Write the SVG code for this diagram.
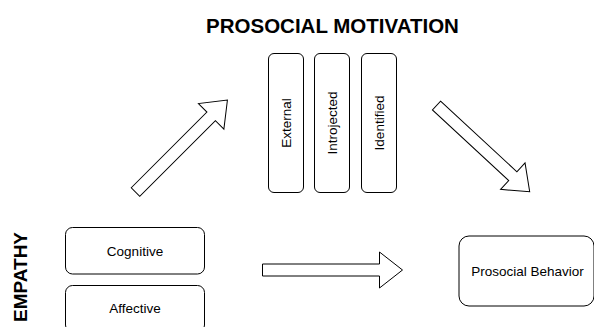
<svg xmlns="http://www.w3.org/2000/svg" width="594" height="327" viewBox="0 0 594 327">
<style>
.box{fill:#fff;stroke:#000;stroke-width:1}
.arr{fill:#fff;stroke:#000;stroke-width:1;stroke-linejoin:miter}
.lbl{font-family:"Liberation Sans",Arial,sans-serif;font-size:13.5px;fill:#000;text-anchor:middle}
.ttl{font-family:"Liberation Sans",Arial,sans-serif;font-size:20.5px;font-weight:bold;fill:#000;text-anchor:middle}
</style>
<rect width="594" height="327" fill="#fff"/>
<g id="title-motivation"><text class="ttl" x="332.5" y="33">PROSOCIAL MOTIVATION</text></g>
<g id="title-empathy"><text class="ttl" style="font-size:19px" transform="translate(27,277) rotate(-90)">EMPATHY</text></g>
<g id="external"><rect class="box" x="268.5" y="53.5" width="35" height="139" rx="5.5"/><text class="lbl" transform="translate(290.5,123) rotate(-90)">External</text></g>
<g id="introjected"><rect class="box" x="314.5" y="53.5" width="35" height="139" rx="5.5"/><text class="lbl" transform="translate(336.5,123) rotate(-90)">Introjected</text></g>
<g id="identified"><rect class="box" x="361.5" y="53.5" width="35" height="139" rx="5.5"/><text class="lbl" transform="translate(383.5,123) rotate(-90)">Identified</text></g>
<g id="cognitive"><rect class="box" x="65.5" y="227.5" width="139" height="46.5" rx="7"/><text class="lbl" x="135" y="255.5">Cognitive</text></g>
<g id="affective"><rect class="box" x="65.5" y="285.5" width="139" height="46.5" rx="7"/><text class="lbl" x="135" y="313">Affective</text></g>
<g id="prosocial-behavior"><rect class="box" x="459" y="236" width="135" height="70" rx="10"/><text class="lbl" x="527.5" y="276">Prosocial Behavior</text></g>
<g id="connectors">
<path class="arr" transform="translate(262.5,270)" d="M0,-6H117V-18L140,0L117,18V6H0Z"/>
<path class="arr" transform="translate(135.5,192) rotate(-45)" d="M0,-6H107V-18L130,0L107,18V6H0Z"/>
<path class="arr" transform="translate(436.5,105.5) rotate(42.8)" d="M0,-6H104V-18L127,0L104,18V6H0Z"/>
</g>
</svg>
